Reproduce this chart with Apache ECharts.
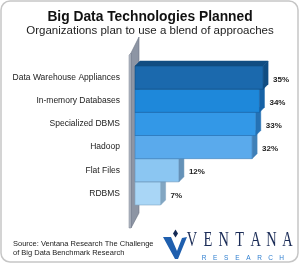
<!DOCTYPE html>
<html>
<head>
<meta charset="utf-8">
<script src="https://cdn.jsdelivr.net/npm/echarts@6/dist/echarts.min.js"></script>
<style>html,body{margin:0;padding:0;background:#fff;}#c{width:300px;height:264px;}</style>
</head>
<body>
<div id="c"></div>
<script>
const categories = ['Data Warehouse Appliances', 'In-memory Databases', 'Specialized DBMS', 'Hadoop', 'Flat Files', 'RDBMS'];
const values = [35, 34, 33, 32, 12, 7];
const valueLabels = ['35%', '34%', '33%', '32%', '12%', '7%'];
const frontColors = ['#1b69ad', '#1e88da', '#3398e7', '#5aaaec', '#8bc6f2', '#a9d6f6'];
const sideColors = ['#114d82', '#1662a6', '#2571b4', '#3f80b8', '#6592b8', '#82a6c2'];
const titleText = 'Big Data Technologies Planned';
const subtitleText = 'Organizations plan to use a blend of approaches';
const sourceText = 'Source: Ventana Research The Challenge\nof Big Data Benchmark Research';
const logoWord = ['V', 'E', 'N', 'T', 'A', 'N', 'A'];
const logoSub = ['R', 'E', 'S', 'E', 'A', 'R', 'C', 'H'];

const chart = echarts.init(document.getElementById('c'), null, {renderer: 'canvas'});
const D = 5;

function renderItem(params, api) {
  const idx = params.dataIndex;
  const ci = api.value(1);
  const h = api.size([0, 1])[1];
  const p0 = api.coord([0, ci]);
  const p1 = api.coord([api.value(0), ci]);
  const x0 = p0[0], R = p1[0];
  const top = p0[1] - h / 2, bot = p0[1] + h / 2;
  const zb = 20 - idx * 3;
  const children = [
    {type: 'polygon', z2: zb, shape: {points: [[x0, top], [x0 + D, top - D], [R + D, top - D], [R, top]]},
     style: {fill: sideColors[idx], stroke: sideColors[idx], lineWidth: 0.5}},
    {type: 'polygon', z2: zb, shape: {points: [[R, top], [R + D, top - D], [R + D, bot - D], [R, bot]]},
     style: {fill: sideColors[idx], stroke: sideColors[idx], lineWidth: 0.5}},
    {type: 'rect', z2: zb + 1, shape: {x: x0, y: top, width: R - x0, height: h},
     style: {fill: frontColors[idx], stroke: sideColors[idx], lineWidth: 0.6}},
    {type: 'text', z2: 50, style: {x: R + D + 5, y: p0[1] + 2, text: valueLabels[idx], fill: '#222',
      font: 'bold 8px "Liberation Sans", Arial, sans-serif', textAlign: 'left', textVerticalAlign: 'middle'}}
  ];
  if (idx === 0) {
    const cs = params.coordSys;
    const gx = cs.x, gt = cs.y, gb = cs.y + cs.height;
    children.push(
      {type: 'polygon', z2: 1, shape: {points: [[gx - 4, gt - 13], [gx + 4, gt - 29], [gx + 4, gb + 8], [gx - 4, gb + 23]]},
       style: {fill: '#8d95a4', stroke: '#6c7483', lineWidth: 0.6}},
      {type: 'polygon', z2: 2, shape: {points: [[gx - 6, gt - 11], [gx - 4, gt - 13], [gx - 4, gb + 23], [gx - 6, gb + 23]]},
       style: {fill: '#b3b9c4', stroke: '#7a8291', lineWidth: 0.5}}
    );
  }
  return {type: 'group', children: children};
}

const graphics = [
  {type: 'rect', shape: {x: 1, y: 1, width: 297, height: 261, r: 9}, style: {fill: 'none', stroke: '#c6c6c6', lineWidth: 1.5}, z: 100},
  {type: 'text', left: 13, top: 239, style: {text: sourceText, fill: '#222', font: '7.5px "Liberation Sans", Arial, sans-serif', lineHeight: 9}},
  {type: 'polygon', shape: {points: [[163, 237], [171, 237], [177, 251], [182, 238], [187, 237], [178, 259], [175, 259]]}, style: {fill: '#1f5fae'}},
  {type: 'polygon', shape: {points: [[175.5, 229.5], [178, 233.5], [175.5, 237.5], [173, 233.5]]}, style: {fill: '#142a55'}}
];
logoWord.forEach(function (ch, i) {
  graphics.push({type: 'text', x: 192 + i * 15.9, y: 241, scaleX: 0.72,
    style: {text: ch, fill: '#1b2c57', font: '20px "Liberation Serif", "Times New Roman", serif', textAlign: 'center', textVerticalAlign: 'middle'}});
});
logoSub.forEach(function (ch, i) {
  graphics.push({type: 'text', x: 204 + i * 11.1, y: 258.5,
    style: {text: ch, fill: '#2f7fd0', font: '6.5px "Liberation Sans", Arial, sans-serif', textAlign: 'center', textVerticalAlign: 'middle'}});
});

chart.setOption({
  animation: false,
  backgroundColor: '#fff',
  title: [
    {text: titleText, left: 'center', top: 5, textStyle: {fontSize: 13.8, fontWeight: 'bold', color: '#111', fontFamily: 'Liberation Sans'}},
    {text: subtitleText, left: 'center', top: 20, textStyle: {fontSize: 11.5, fontWeight: 'normal', color: '#222', fontFamily: 'Liberation Sans'}}
  ],
  grid: {left: 135, top: 66, height: 139, width: 146.4, containLabel: false},
  xAxis: {type: 'value', min: 0, max: 40, show: false},
  yAxis: {type: 'category', data: categories, inverse: true,
    axisLine: {show: false}, axisTick: {show: false}, splitLine: {show: false},
    axisLabel: {margin: 15, fontSize: 8.5, color: '#222', fontFamily: 'Liberation Sans'}},
  series: [{
    type: 'custom',
    renderItem: renderItem,
    encode: {x: 0, y: 1},
    data: values.map(function (v, i) { return [v, i]; }),
    clip: false
  }],
  graphic: graphics
});
</script>
</body>
</html>
